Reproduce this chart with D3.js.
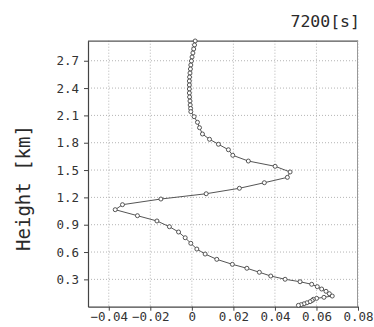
<!DOCTYPE html>
<html>
<head>
<meta charset="utf-8">
<script src="https://d3js.org/d3.v7.min.js"></script>
<style>
  body { margin: 0; background: #fff; }
</style>
</head>
<body>
<div id="my_dataviz"></div>
<script>
// profile values (top to bottom)
var heights = [2.917, 2.873, 2.829, 2.785, 2.741, 2.697, 2.653, 2.609, 2.565, 2.521,
  2.477, 2.434, 2.390, 2.346, 2.302, 2.258, 2.214, 2.176, 2.141,
  2.086, 2.024, 1.965, 1.896, 1.838, 1.783, 1.723, 1.662, 1.599, 1.541,
  1.479, 1.420, 1.361, 1.300, 1.240, 1.182, 1.120, 1.065,
  0.999, 0.941, 0.878, 0.820, 0.757, 0.696, 0.633, 0.578, 0.520, 0.465,
  0.422, 0.378, 0.337, 0.301, 0.274, 0.246, 0.220, 0.194, 0.169, 0.143, 0.117,
  0.103, 0.092, 0.081, 0.068, 0.055, 0.043, 0.032, 0.022, 0.015];
var values = [0.0016, 0.0013, 0.0009, 0.0005, 0.0001, -0.0002, -0.0005, -0.0007, -0.0009, -0.0011,
  -0.0012, -0.0012, -0.0012, -0.0012, -0.0011, -0.0009, -0.0008, -0.0006, -0.0005,
  0.0011, 0.0027, 0.0037, 0.0051, 0.0085, 0.0128, 0.0176, 0.0197, 0.0272, 0.0401,
  0.0473, 0.0460, 0.0349, 0.0229, 0.0069, -0.0149, -0.0334, -0.0369,
  -0.0262, -0.0168, -0.0108, -0.0064, -0.0032, -0.0005, 0.0024, 0.0064, 0.0120, 0.0195,
  0.0265, 0.0325, 0.0380, 0.0449, 0.0521, 0.0577, 0.0604, 0.0625, 0.0646, 0.0662, 0.0676,
  0.0636, 0.0601, 0.0585, 0.0579, 0.0569, 0.0554, 0.0540, 0.0526, 0.0513];
var xTicks = [-0.04, -0.02, 0, 0.02, 0.04, 0.06, 0.08];
var yTicks = [0.3, 0.6, 0.9, 1.2, 1.5, 1.8, 2.1, 2.4, 2.7];
var title = "7200[s]";
var yLabel = "Height [km]";

// set the dimensions and margins of the graph
var W = 374, H = 327;
var margin = {top: 40.7, right: 16, bottom: 20.3, left: 88},
  width = W - margin.left - margin.right,
  height = H - margin.top - margin.bottom;

var svg = d3.select("#my_dataviz")
.append("svg")
  .attr("width", W)
  .attr("height", H)
.append("g")
  .attr("transform", "translate(" + margin.left + "," + margin.top + ")");

var x = d3.scaleLinear().domain([-0.05, 0.08]).range([0, width]);
var y = d3.scaleLinear().domain([0, 2.92]).range([height, 0]);

var mono = "'DejaVu Sans Mono', monospace";

// dotted grid
svg.append("g")
  .selectAll("line")
  .data(xTicks)
  .enter()
  .append("line")
    .attr("x1", d => x(d)).attr("x2", d => x(d))
    .attr("y1", 0).attr("y2", height)
    .attr("stroke", "#b4b4b4")
    .attr("stroke-dasharray", "1,2");
svg.append("g")
  .selectAll("line")
  .data(yTicks)
  .enter()
  .append("line")
    .attr("x1", 0).attr("x2", width)
    .attr("y1", d => y(d)).attr("y2", d => y(d))
    .attr("stroke", "#b4b4b4")
    .attr("stroke-dasharray", "1,2");

// frame: top solid, right light
svg.append("line")
  .attr("x1", 0).attr("x2", width).attr("y1", 0.5).attr("y2", 0.5)
  .attr("stroke", "#555").attr("stroke-width", 1.2);
svg.append("line")
  .attr("x1", width - 0.5).attr("x2", width - 0.5).attr("y1", 0).attr("y2", height)
  .attr("stroke", "#999").attr("stroke-width", 1);

// axes
var fmt = function(d) { return d === 0 ? "0" : d3.format(".2f")(d).replace("-", "\u2212"); };
var xAxis = svg.append("g")
  .attr("transform", "translate(0," + height + ")")
  .call(d3.axisBottom(x).tickValues(xTicks).tickFormat(fmt).tickSize(4).tickSizeOuter(0));
var yAxis = svg.append("g")
  .call(d3.axisLeft(y).tickValues(yTicks).tickFormat(d3.format(".1f")).tickSize(4).tickSizeOuter(0));

[xAxis, yAxis].forEach(function(a) {
  a.select(".domain").attr("stroke", "#444").attr("stroke-width", 1.2);
  a.selectAll(".tick line").attr("stroke", "#444");
  a.selectAll("text")
    .attr("font-family", mono)
    .attr("font-size", "12.5px")
    .attr("fill", "#333");
});
xAxis.selectAll("text").attr("dy", "0.9em").attr("y", 3);
yAxis.selectAll("text").attr("x", -9);

// profile line and markers
var pts = values.map(function(v, i) { return [v, heights[i]]; });
svg.append("path")
  .datum(pts)
  .attr("fill", "none")
  .attr("stroke", "#555")
  .attr("stroke-width", 1)
  .attr("d", d3.line().x(d => x(d[0])).y(d => y(d[1])));

svg.selectAll("circle")
  .data(pts)
  .enter()
  .append("circle")
    .attr("cx", d => x(d[0]))
    .attr("cy", d => y(d[1]))
    .attr("r", 2)
    .attr("fill", "#fff")
    .attr("stroke", "#444")
    .attr("stroke-width", 0.9);

// title and y label
svg.append("text")
  .attr("x", width + 2)
  .attr("y", 27.3 - margin.top)
  .attr("text-anchor", "end")
  .attr("font-family", mono)
  .attr("font-size", "16.5px")
  .attr("fill", "#2a2a2a")
  .text(title);

svg.append("text")
  .attr("transform", "translate(" + (29.5 - margin.left) + "," + (188 - margin.top) + ") rotate(-90)")
  .attr("text-anchor", "middle")
  .attr("font-family", mono)
  .attr("font-size", "19px")
  .attr("fill", "#2a2a2a")
  .text(yLabel);
</script>
</body>
</html>
